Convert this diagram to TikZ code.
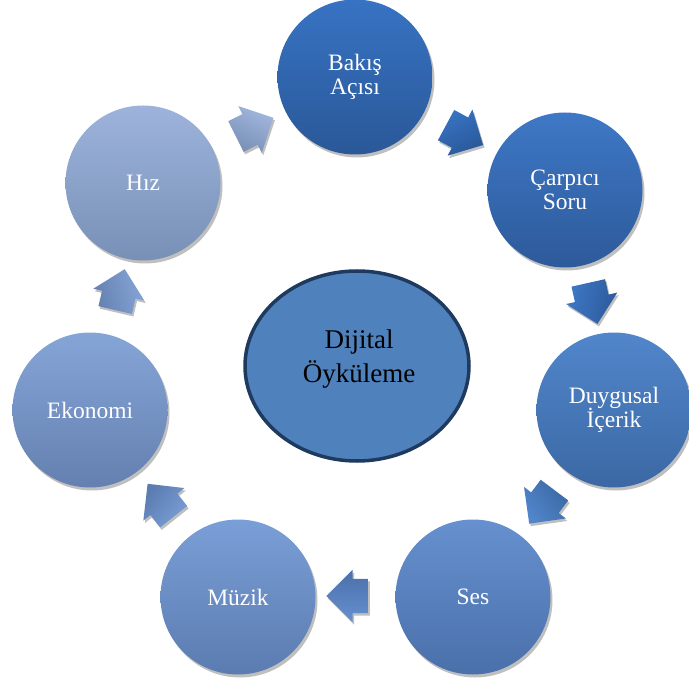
\documentclass[tikz,border=0pt]{standalone}
\usepackage{fontspec}
\setmainfont{Liberation Serif}
\usetikzlibrary{shapes.arrows,shapes.geometric,shadows}
\definecolor{c1t}{HTML}{3773C3}\definecolor{c1b}{HTML}{2A5898}
\definecolor{c2t}{HTML}{3E78C6}\definecolor{c2b}{HTML}{2D5A9A}
\definecolor{c3t}{HTML}{5186CB}\definecolor{c3b}{HTML}{3B68A4}
\definecolor{c4t}{HTML}{6690CF}\definecolor{c4b}{HTML}{4A70AA}
\definecolor{c5t}{HTML}{7A9ED7}\definecolor{c5b}{HTML}{5B7CB0}
\definecolor{c6t}{HTML}{86A5D7}\definecolor{c6b}{HTML}{6480B0}
\definecolor{c7t}{HTML}{9DB3DC}\definecolor{c7b}{HTML}{7890B6}
\definecolor{centerfill}{HTML}{4F81BD}
\definecolor{centerline}{HTML}{1F3A5F}
\tikzset{
  circ/.style={circle, minimum size=155pt, inner sep=0pt, align=center,
    text=white, font=\fontsize{23.5}{24.5}\selectfont,
    drop shadow={shadow xshift=2pt, shadow yshift=-3pt, opacity=0.25, fill=black}},
  blockarrow/.style={single arrow, minimum height=42pt,
    single arrow head extend=9pt, single arrow head indent=0pt, inner sep=0pt,
    drop shadow={shadow xshift=1.5pt, shadow yshift=-2.5pt, opacity=0.25, fill=black}},
}
\newcommand{\arrbody}{\rule{0pt}{34pt}}
\begin{document}
\begin{tikzpicture}[x=1pt,y=-1pt]
\useasboundingbox (0,0) rectangle (689,682);
% outer circles
\node[circ, top color=c1t, bottom color=c1b] (bakis) at (355,77) {Bakış\\Açısı};
\node[circ, top color=c2t, bottom color=c2b] (carpici) at (565,190) {Çarpıcı\\Soru};
\node[circ, top color=c3t, bottom color=c3b] (duygusal) at (614,410) {Duygusal\\İçerik};
\node[circ, top color=c4t, bottom color=c4b] (ses) at (473,597) {Ses};
\node[circ, top color=c5t, bottom color=c5b] (muzik) at (238,597) {Müzik};
\node[circ, top color=c6t, bottom color=c6b] (ekonomi) at (90,410) {Ekonomi};
\node[circ, top color=c7t, bottom color=c7b] (hiz) at (143,183) {Hız};
% center
\node[ellipse, draw=centerline, line width=3.5pt, fill=centerfill,
  minimum width=224pt, minimum height=190pt, inner sep=0pt] (dijital) at (357,366) {};
\node[align=center, font=\fontsize{27}{34}\selectfont, inner sep=0pt] (dijitaltext) at (359,359) {Dijital\\Öyküleme};
% block arrows
\node[blockarrow, rotate=26.6, top color=c7t!95!white, bottom color=c7b, shading angle=-26.6] (a1) at (247,131) {\arrbody};
\node[blockarrow, rotate=-28.3, top color=c1t, bottom color=c1b, shading angle=28.3] (a2) at (457,131) {\arrbody};
\node[blockarrow, rotate=-77.4, top color=c2t, bottom color=c2b, shading angle=77.4] (a3) at (591,295) {\arrbody};
\node[blockarrow, rotate=-127, top color=c3t, bottom color=c3b, shading angle=127] (a4) at (547,500) {\arrbody};
\node[blockarrow, rotate=180, top color=c4t, bottom color=c4b, shading angle=-180] (a5) at (356,596) {\arrbody};
\node[blockarrow, rotate=128.4, top color=c5t, bottom color=c5b, shading angle=-128.4] (a6) at (166,507) {\arrbody};
\node[blockarrow, rotate=76.9, top color=c6t, bottom color=c6b, shading angle=-76.9] (a7) at (118,298) {\arrbody};
\end{tikzpicture}
\end{document}
